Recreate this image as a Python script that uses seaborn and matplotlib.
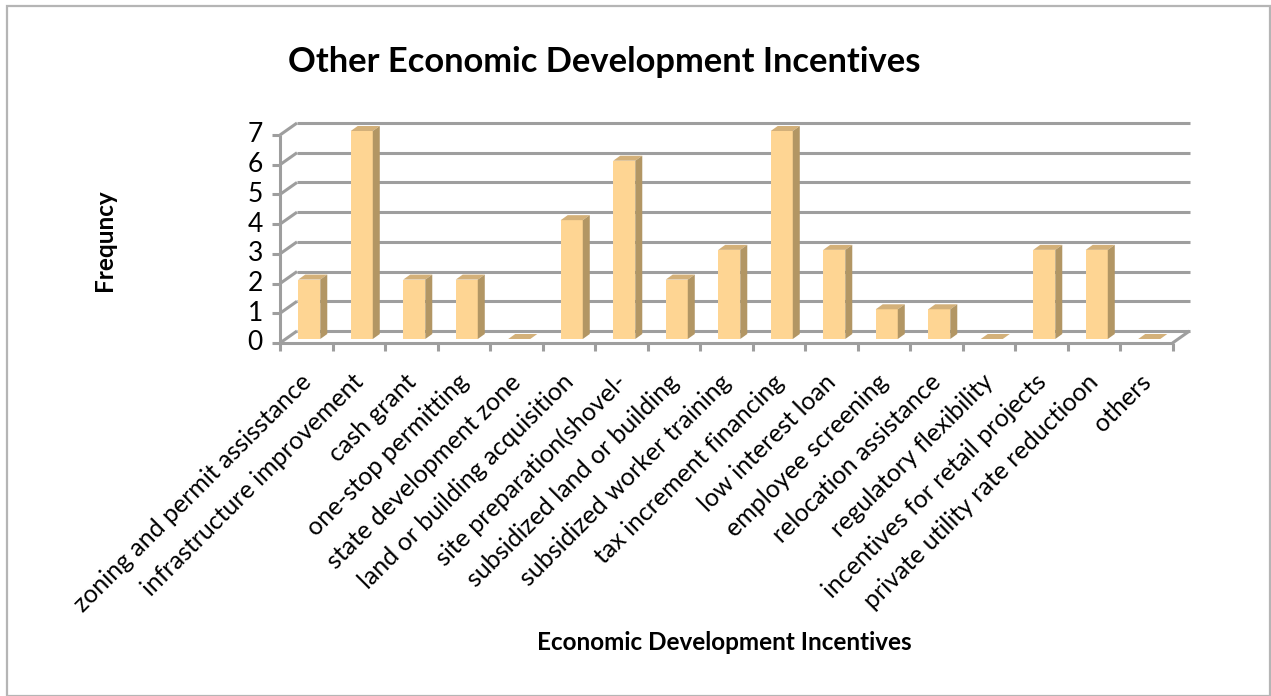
import matplotlib
matplotlib.use("Agg")
import matplotlib.pyplot as plt
import seaborn as sns
import numpy as np
import pandas as pd
from matplotlib.patches import Polygon, Rectangle

categories = [
    "zoning and permit assisstance",
    "infrastructure improvement",
    "cash grant",
    "one-stop permitting",
    "state development zone",
    "land or building acquisition",
    "site preparation(shovel-",
    "subsidized land or building",
    "subsidized worker training",
    "tax increment financing",
    "low interest loan",
    "employee screening",
    "relocation assistance",
    "regulatory flexibility",
    "incentives for retail projects",
    "private utility rate reductioon",
    "others",
]
frequency = [2, 7, 2, 2, 0, 4, 6, 2, 3, 7, 3, 1, 1, 0, 3, 3, 0]
y_ticks = [0, 1, 2, 3, 4, 5, 6, 7]

title = "Other Economic Development Incentives"
x_title = "Economic Development Incentives"
y_title = "Frequncy"

FRONT = "#FED593"
SIDE = "#B29664"
TOP = "#D3B079"
GRID = "#9E9E9E"

sns.set_theme(style="white")
plt.rcParams["font.family"] = ["Lato", "DejaVu Sans"]
plt.rcParams["text.color"] = "black"

W, H = 1271, 696
fig = plt.figure(figsize=(W / 100, H / 100), dpi=100)

# front plane of the 3-D box, in pixels
x_left, x_right = 280, 1172.5
y_zero, y_top = 343, 135
ax = fig.add_axes([x_left / W, (H - y_zero) / H,
                   (x_right - x_left) / W, (y_zero - y_top) / H])
ax.set_xlim(-0.5, len(categories) - 0.5)
ax.set_ylim(0, 7)
ax.axis("off")

# pixel -> data conversion factors
px_x = (len(categories)) / (x_right - x_left)
px_y = 7 / (y_zero - y_top)

# back wall depth offset (pixels)
dx_wall, dy_wall = 17, 12

kw = dict(color=GRID, lw=2.2, clip_on=False, solid_capstyle="butt", zorder=1)
x0, x1 = -0.5, len(categories) - 0.5
for v in y_ticks:
    # back wall gridline
    ax.plot([x0 + dx_wall * px_x, x1 + dx_wall * px_x],
            [v + dy_wall * px_y, v + dy_wall * px_y], **kw)
    # left side wall diagonal
    ax.plot([x0, x0 + dx_wall * px_x], [v, v + dy_wall * px_y], **kw)
    # y-axis tick
    ax.plot([x0 - 8 * px_x, x0], [v, v], **kw)
    ax.text(x0 - 17 * px_x, v, str(v), ha="right", va="center",
            fontsize=19, color="black")

# left vertical axis line and floor front edge
ax.plot([x0, x0], [0, 7], **kw)
ax.plot([x0, x1], [0, 0], **kw)
ax.plot([x1, x1 + dx_wall * px_x], [0, dy_wall * px_y], **kw)
for i in range(len(categories) + 1):
    xb = -0.5 + i
    ax.plot([xb, xb], [0, -8 * px_y], **kw)

# bars (front faces) through seaborn
df = pd.DataFrame({"incentive": categories, "freq": frequency})
sns.barplot(data=df, x="incentive", y="freq", color=FRONT, saturation=1,
            width=0.42, ax=ax, zorder=3, edgecolor="none")
ax.set_xlim(-0.5, len(categories) - 0.5)
ax.set_ylim(0, 7)
ax.axis("off")

# push the bars a little into the box and add side / top faces
fx, fy = 3 * px_x, 4 * px_y          # front face offset
sx, sy = 7 * px_x, 5 * px_y          # bar depth
for p in ax.patches:
    if not isinstance(p, Rectangle):
        continue
    bx, bw, bh = p.get_x() + fx, p.get_width(), p.get_height()
    by = fy
    p.set_x(bx)
    p.set_y(by)
    p.set_clip_on(False)
    top = bh + by
    ax.add_patch(Polygon([[bx, top], [bx + bw, top], [bx + bw + sx, top + sy],
                          [bx + sx, top + sy]], closed=True, facecolor=TOP,
                         edgecolor="none", zorder=4, clip_on=False))
    if bh > 0:
        ax.add_patch(Polygon([[bx + bw, by], [bx + bw + sx, by + sy],
                              [bx + bw + sx, top + sy], [bx + bw, top]],
                             closed=True, facecolor=SIDE, edgecolor="none",
                             zorder=4, clip_on=False))

# category labels
for i, lab in enumerate(categories):
    ax.text(i - 7 * px_x, -27 * px_y, lab, rotation=45, ha="right", va="top",
            rotation_mode="anchor", fontsize=18, color="black")

fig.text(604 / W, 1 - 62 / H, title, ha="center", va="center",
         fontsize=24.8, fontweight="bold", color="black")
fig.text(724 / W, 1 - 643 / H, x_title, ha="center", va="center",
         fontsize=17.5, fontweight="bold", color="black")
fig.text(105 / W, 1 - 240 / H, y_title, ha="center", va="center",
         rotation=90, fontsize=17.5, fontweight="bold", color="black")

# outer chart frame
fig.add_artist(Rectangle((6.5 / W, 0.5 / H), (W - 7.5) / W, (H - 6.5) / H,
                         transform=fig.transFigure, fill=False,
                         edgecolor="#B5B5B5", lw=1.6))

fig.savefig("out.png", dpi=100, facecolor="white")
